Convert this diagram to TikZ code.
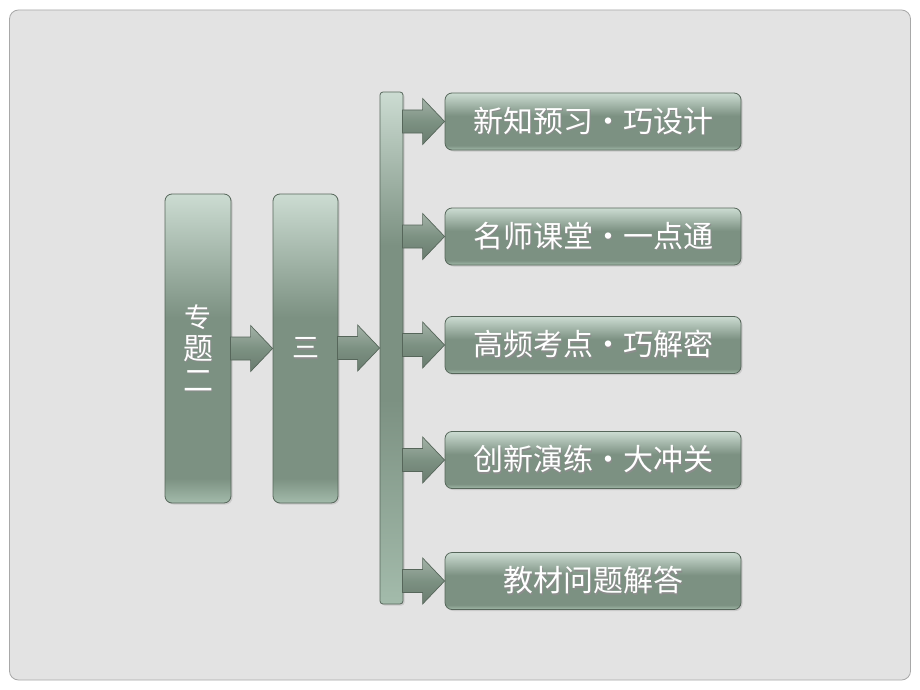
\documentclass[tikz,border=0pt]{standalone}
\usepackage{fontspec}
\newfontfamily\cjk{Noto Sans CJK SC}
\usetikzlibrary{calc,shadows}
\definecolor{bgfill}{HTML}{E3E3E3}
\definecolor{bgline}{HTML}{A8A8A8}
\definecolor{boxtop}{HTML}{CCDCD2}
\definecolor{boxmid}{HTML}{7C9182}
\definecolor{boxbot}{HTML}{A3BBAB}
\definecolor{boxline}{HTML}{56665A}
\pgfdeclareverticalshading{boxsh}{100bp}{color(0bp)=(boxbot); color(25bp)=(boxbot); color(29bp)=(boxmid); color(55bp)=(boxmid); color(75bp)=(boxtop); color(100bp)=(boxtop)}
\pgfdeclareverticalshading{barsh}{100bp}{color(0bp)=(boxbot); color(25bp)=(boxbot); color(45bp)=(boxmid); color(60bp)=(boxmid); color(75bp)=(boxtop); color(100bp)=(boxtop)}
\pgfdeclareverticalshading{arrsh}{100bp}{color(0bp)=(boxmid!85!black); color(25bp)=(boxmid!85!black); color(50bp)=(boxmid); color(75bp)=(boxmid!70!white); color(100bp)=(boxmid!70!white)}
\newcommand\shtext[1]{\rlap{\raisebox{-1.2pt}{\kern1.2pt\textcolor{black!45}{#1}}}#1}
\tikzset{
  panel/.style={draw=boxline, line width=0.8pt, rounded corners=7pt, shade, shading=boxsh,
    drop shadow={opacity=0.25, shadow xshift=1.5pt, shadow yshift=-1.5pt},
    text=white, font=\cjk\fontsize{30}{32}\selectfont, inner sep=0pt},
  barsty/.style={draw=boxline, line width=0.8pt, rounded corners=3pt, shade, shading=barsh,
    drop shadow={opacity=0.25, shadow xshift=1.5pt, shadow yshift=-1.5pt}},
  arrsty/.style={draw=boxline, line width=0.7pt, shade, shading=arrsh, line join=miter}
}
\newcommand\bigarr[2]{%
  \path[arrsty] let \p1=(#1.east), \p2=(#2.west) in
    (\x1-1pt,\y2+11.5pt) -- (\x2-22pt,\y2+11.5pt) -- (\x2-22pt,\y2+23pt) -- (\x2,\y2)
    -- (\x2-22pt,\y2-23pt) -- (\x2-22pt,\y2-11.5pt) -- (\x1-1pt,\y2-11.5pt) -- cycle;}
\begin{document}
\begin{tikzpicture}[x=1pt,y=-1pt]
\useasboundingbox (0,0) rectangle (920,690);
\fill[white] (0,0) rectangle (920,690);
\draw[bgline, fill=bgfill, line width=0.8pt, rounded corners=9pt] (9.5,10) rectangle (910.5,680);

\node[panel, minimum width=66pt, minimum height=309pt, align=center] (zt) at (198,348.5)
  {\fontsize{27}{35}\selectfont\shtext{专}\\\shtext{题}\\\shtext{二}};
\node[panel, minimum width=65pt, minimum height=309pt] (san) at (305.5,348.5)
  {\fontsize{27}{30}\selectfont\shtext{三}};
\node[barsty, minimum width=23pt, minimum height=512pt, inner sep=0pt] (bar) at (391.5,348) {};

\node[panel, minimum width=296pt, minimum height=57pt] (r1) at (593,121.5) {\shtext{新知预习・巧设计}};
\node[panel, minimum width=296pt, minimum height=57pt] (r2) at (593,236.5) {\shtext{名师课堂・一点通}};
\node[panel, minimum width=296pt, minimum height=57pt] (r3) at (593,345) {\shtext{高频考点・巧解密}};
\node[panel, minimum width=296pt, minimum height=57pt] (r4) at (593,460) {\shtext{创新演练・大冲关}};
\node[panel, minimum width=296pt, minimum height=57pt] (r5) at (593,581) {\shtext{教材问题解答}};

\bigarr{zt}{san}
\bigarr{san}{bar}
\bigarr{bar}{r1}
\bigarr{bar}{r2}
\bigarr{bar}{r3}
\bigarr{bar}{r4}
\bigarr{bar}{r5}
\end{tikzpicture}
\end{document}
